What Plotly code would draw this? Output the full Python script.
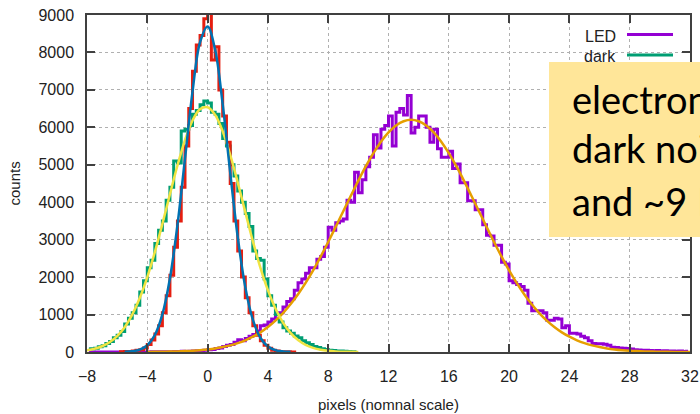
import numpy as np
import plotly.graph_objects as go

# ---------------- data ----------------
# LED histogram, bins of 0.25 from -8 to 32 (160 bins)
led_counts = [
    0, 0, 0, 0,   0, 0, 0, 0,   0, 1, 0, 0,   1, 0, 2, 1,
    3, 5, 4, 6,   8, 6, 10, 12,   14, 18, 16, 22,   30, 34, 40, 46,
    60, 70, 95, 110,   150, 180, 200, 260,   330, 300, 360, 420,
    470, 560, 700, 720,   800, 880, 1000, 1050,   1200, 1350, 1420, 1650,
    1850, 1950, 2100, 2250,   2250, 2480, 2550, 2800,   3330, 3250, 3450, 3500,
    3550, 4050, 4000, 4800,   4250, 4600, 4950, 5200,   5800, 5450, 5950, 6050,
    6300, 5500, 6400, 6500,   6330, 6850, 5850, 6000,   6300, 6300, 6000, 5600,
    5950, 5430, 5200, 5200,   5360, 4900, 5020, 4520,   4520, 4040, 4040, 3800,
    3800, 3400, 3120, 3100,   2850, 2850, 2400, 2350,   1900, 1850, 1800, 1750,
    1650, 1300, 1100, 1100,   1100, 1050, 850, 850,   900, 880, 650, 700,
    500, 500, 480, 420,   380, 300, 230, 220,   220, 210, 180, 130,
    120, 110, 100, 95,   80, 60, 55, 50,   45, 40, 35, 40,
    30, 35, 25, 30,   20, 25, 15, 20,
]
# dark histogram, bins of 0.25 from -8 to 10 (72 bins)
dark_counts = [
    80, 90, 100, 140,   170, 230, 280, 380,   450, 550, 750, 900,
    1050, 1250, 1600, 1900,   2250, 2450, 2900, 3250,   3500, 4050, 4400, 5100,
    5050, 5900, 5950, 6050,   6350, 6450, 6600, 6700,   6650, 6400, 6350, 6100,
    5700, 5500, 5000, 4700,   4300, 4000, 3700, 3350,   2700, 2500, 2450, 1950,
    1500, 1250, 1000, 800,   650, 560, 500, 430,   380, 300, 250, 200,
    150, 120, 90, 70,   50, 40, 30, 25,   20, 15, 10, 5,
]
# narrow (red) histogram, bins of 0.25 from -6 to 6 (48 bins)
narrow_counts = [
    5, 10, 12, 15,   25, 45, 60, 110,   200, 320, 480, 700,
    1050, 1500, 2050, 2800,   3500, 4400, 5500, 6500,   7500, 8200, 8450, 8900,
    9100, 7800, 8150, 7000,   6300, 5600, 4500, 3500,   2700, 2000, 1450, 1050,
    700, 450, 300, 180,   100, 50, 25, 10,   8, 5, 3, 2,
]
# fitted curves, sampled every 0.5
narrow_fit = [5, 20, 64, 181, 454, 1004, 1963, 3387, 5163, 6954, 8274, 8695,
              8071, 6618, 4793, 3066, 1733, 865, 381, 148, 51, 16, 4]          # -5.5 .. 5.5
dark_fit = [47, 87, 153, 260, 424, 663, 998, 1442, 2001, 2669, 3420, 4212, 4981,
            5661, 6182, 6486, 6538, 6333, 5892, 5268, 4526, 3735, 2961, 2256,
            1651, 1161, 785, 509, 318, 190, 110, 61, 32, 16, 8, 4, 2]            # -8 .. 10
led_fit = [3, 5, 8, 11, 16, 24, 34, 49, 69, 95, 131, 177, 237, 313, 408, 525, 668,
           839, 1040, 1275, 1544, 1846, 2180, 2548, 2939, 3346, 3760, 4171, 4578,
           4963, 5313, 5617, 5865, 6049, 6162, 6200, 6162, 6049, 5865, 5617, 5313,
           4963, 4578, 4171, 3760, 3346, 2939, 2548, 2180, 1846, 1544, 1275, 1040,
           839, 668, 525, 408, 313, 237, 177, 131, 95, 69, 49, 34, 24, 16, 11, 8,
           5, 3, 2, 1]                                                            # -4 .. 32

x_ticks = [-8, -4, 0, 4, 8, 12, 16, 20, 24, 28, 32]
y_ticks = [0, 1000, 2000, 3000, 4000, 5000, 6000, 7000, 8000, 9000]
legend_names = ["LED", "dark"]
x_title = "pixels (nomnal scale)"
y_title = "counts"
box_lines = ["electronic noise", "dark noise ~6 e\u207b", "and ~9 LED"]

# bin centres / sample grids
BIN = 0.25
led_x = -8 + BIN / 2 + BIN * np.arange(len(led_counts))
dark_x = -8 + BIN / 2 + BIN * np.arange(len(dark_counts))
narrow_x = -6 + BIN / 2 + BIN * np.arange(len(narrow_counts))
narrow_fx = -5.5 + 0.5 * np.arange(len(narrow_fit))
dark_fx = -8 + 0.5 * np.arange(len(dark_fit))
led_fx = -4 + 0.5 * np.arange(len(led_fit))

C_LED, C_DARK, C_RED = "#9400D3", "#009E73", "#E51E10"
C_LEDFIT, C_DARKFIT, C_REDFIT = "#E69F00", "#F0E442", "#0072B2"

fig = go.Figure()
fig.add_trace(go.Scatter(x=led_x, y=led_counts, mode="lines", line=dict(color=C_LED, width=3, shape="hvh"), showlegend=False))
fig.add_trace(go.Scatter(x=dark_x, y=dark_counts, mode="lines", line=dict(color=C_DARK, width=3, shape="hvh"), showlegend=False))
fig.add_trace(go.Scatter(x=narrow_x, y=narrow_counts, mode="lines", line=dict(color=C_RED, width=3, shape="hvh"), showlegend=False))
fig.add_trace(go.Scatter(x=led_fx, y=led_fit, mode="lines", line=dict(color=C_LEDFIT, width=2.5, shape="spline"), showlegend=False))
fig.add_trace(go.Scatter(x=dark_fx, y=dark_fit, mode="lines", line=dict(color=C_DARKFIT, width=2.5, shape="spline"), showlegend=False))
fig.add_trace(go.Scatter(x=narrow_fx, y=narrow_fit, mode="lines", line=dict(color=C_REDFIT, width=2.5, shape="spline"), showlegend=False))

FONT = "Liberation Sans"
axis_common = dict(
    showline=True, linecolor="#404040", linewidth=1.5, mirror="allticks",
    ticks="inside", ticklen=8, tickwidth=1.5, tickcolor="#404040",
    showgrid=True, gridcolor="#b0b0b0", gridwidth=1, griddash="dot",
    zeroline=False, tickfont=dict(family=FONT, size=16, color="#222"),
    layer="above traces", automargin=False,
)
fig.update_xaxes(range=[-8, 32], tickvals=x_ticks, ticklabelstandoff=9, **axis_common)
fig.update_yaxes(range=[0, 9000], tickvals=y_ticks, ticklabelstandoff=8, **axis_common)

L, R, T, B = 87, 10, 15, 62
W, H = 700, 414
PW, PH = W - L - R, H - T - B
def px(x):
    return (x - L) / PW
def py(y):
    return (H - B - y) / PH

shapes = [
    # opaque key area (covers grid)
    dict(type="rect", xref="paper", yref="paper", x0=px(553), x1=1, y0=py(140), y1=1,
         fillcolor="white", line=dict(width=0), layer="between"),
    dict(type="line", xref="paper", yref="paper", x0=px(627), x1=px(673), y0=py(34.5), y1=py(34.5),
         line=dict(color=C_LED, width=3)),
    dict(type="line", xref="paper", yref="paper", x0=px(627), x1=px(673), y0=py(55), y1=py(55),
         line=dict(color=C_DARK, width=3)),
]
annotations = [
    dict(text=x_title, xref="paper", yref="paper", x=0.5, y=py(404), xanchor="center", yanchor="middle",
         showarrow=False, font=dict(family=FONT, size=15, color="#222")),
    dict(text=y_title, xref="paper", yref="paper", x=px(14), y=0.5, xanchor="center", yanchor="middle",
         textangle=-90, showarrow=False, font=dict(family=FONT, size=15, color="#222")),
    dict(text=legend_names[0], xref="paper", yref="paper", x=px(618), y=py(36), xanchor="right", yanchor="middle",
         showarrow=False, font=dict(family=FONT, size=16, color="#222")),
    dict(text=legend_names[1], xref="paper", yref="paper", x=px(618), y=py(57), xanchor="right", yanchor="middle",
         showarrow=False, font=dict(family=FONT, size=16, color="#222")),
    # yellow text box (drawn as a blank annotation with background)
    dict(text=" ", xref="paper", yref="paper", x=px(549), y=py(61.7), xanchor="left", yanchor="top",
         width=220, height=175, bgcolor="#FFE699", borderpad=0, borderwidth=0, showarrow=False),
]
for line, cy in zip(box_lines, [99, 148, 201]):
    annotations.append(dict(text=line, xref="paper", yref="paper", x=px(570), y=py(cy), xanchor="left",
                            yanchor="middle", showarrow=False, align="left",
                            font=dict(family="Lato", size=38, color="#000")))

fig.update_layout(
    width=W, height=H, margin=dict(l=L, r=R, t=T, b=B, autoexpand=False),
    paper_bgcolor="white", plot_bgcolor="white",
    shapes=shapes, annotations=annotations, showlegend=False,
)
fig.write_html("out.html", config={"displayModeBar": False},
               post_script="document.body.style.margin='0';document.body.style.overflow='hidden';")
